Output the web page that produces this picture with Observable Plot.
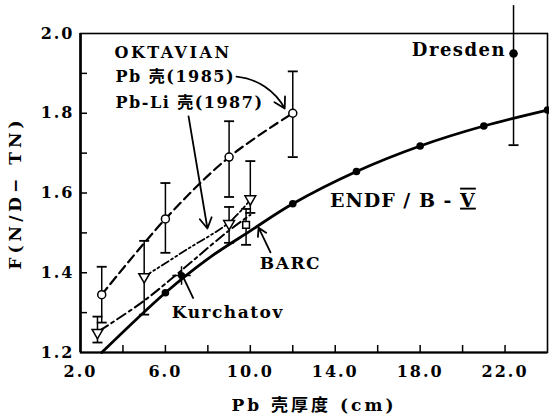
<!DOCTYPE html>
<html><head><meta charset="utf-8">
<script src="https://cdn.jsdelivr.net/npm/d3@7"></script>
<script src="https://cdn.jsdelivr.net/npm/@observablehq/plot@0.6"></script>
<style>
body{margin:0;background:#fff}
#chart svg{font-family:"DejaVu Serif","Noto Sans CJK SC",serif;font-weight:bold;}
</style>
</head><body><div id="chart"></div>
<script>
// ENDF/B-V calculation (solid curve, filled dots)
const endfX = [3, 6, 8, 10, 12, 15, 18, 21, 24];
const endfY = [1.20, 1.35, 1.435, 1.505, 1.573, 1.654, 1.718, 1.768, 1.808];
const endfDotX = [6, 12, 15, 18, 21, 24];
const endfDotY = [1.35, 1.573, 1.654, 1.718, 1.768, 1.808];

// OKTAVIAN Pb shell (1985): open circles, dashed line
const pbX = [3.0, 6.0, 9.0, 12.0];
const pbY = [1.345, 1.535, 1.69, 1.80];
const pbLow = [1.275, 1.45, 1.59, 1.69];
const pbHigh = [1.415, 1.625, 1.78, 1.905];

// OKTAVIAN Pb-Li shell (1987): open triangles
const pbliX = [2.8, 5.0, 9.0, 10.0];
const pbliY = [1.25, 1.39, 1.523, 1.585];
const pbliLow = [1.225, 1.295, 1.475, 1.55];
const pbliHigh = [1.29, 1.48, 1.565, 1.68];

// dash-dot-dot curve and dash-dot curve
const fitAX = [5.0, 7.0, 9.0, 10.0];
const fitAY = [1.39, 1.458, 1.526, 1.583];
const fitBX = [2.9, 5.0, 9.0, 10.0];
const fitBY = [1.255, 1.33, 1.506, 1.545];

// other laboratories
const barcX = [9.8], barcY = [1.52], barcLow = [1.47], barcHigh = [1.56];
const kurX = [6.76], kurY = [1.393];
const dresX = [22.4], dresY = [1.95], dresLow = [1.72], dresHigh = [2.07];

// ticks
const xTickLabels = [2, 6, 10, 14, 18, 22];
const xTicksMinor = [4, 6, 8, 10, 12, 14, 16, 18, 20, 22];
const yTickLabels = [1.2, 1.4, 1.6, 1.8, 2.0];
const yTicksMinor = [1.3, 1.4, 1.5, 1.6, 1.7, 1.8, 1.9];

// text labels
const xTitle = "Pb 壳厚度 (cm)";
const yTitle = "F(N/D− TN)";
const oktText = ["OKTAVIAN", "Pb 壳(1985)", "Pb-Li 壳(1987)"];
const oktX = [3.6, 3.65, 3.65];
const oktY = [1.952, 1.890, 1.827];
const noteText = ["Dresden", "ENDF / B - V", "BARC", "Kurchatov"];
const noteX = [22.05, 13.75, 10.45, 6.3];
const noteY = [1.957, 1.581, 1.423, 1.300];
const noteAnchor = ["end", "start", "start", "start"];

// annotation pointers
const curvedX1 = [9.35], curvedY1 = [1.892], curvedX2 = [11.62], curvedY2 = [1.812];
const arrowX1 = [7.09, 10.95], arrowY1 = [1.792, 1.451];
const arrowX2 = [7.98, 10.39], arrowY2 = [1.511, 1.513];
const kurLinkX1 = [7.32], kurLinkY1 = [1.335], kurLinkX2 = [6.85], kurLinkY2 = [1.388];

const zip = (xs, ys, extra = {}) => xs.map((x, i) => {
  const o = {x, y: ys[i]};
  for (const k in extra) o[k] = extra[k][i];
  return o;
});

const endf = zip(endfX, endfY);
const endfDots = zip(endfDotX, endfDotY);
const pb = zip(pbX, pbY, {lo: pbLow, hi: pbHigh});
const pbli = zip(pbliX, pbliY, {lo: pbliLow, hi: pbliHigh});
const fitA = zip(fitAX, fitAY);
const fitB = zip(fitBX, fitBY);
const barc = zip(barcX, barcY, {lo: barcLow, hi: barcHigh});
const kur = zip(kurX, kurY);
const dres = zip(dresX, dresY, {lo: dresLow, hi: dresHigh});
const okt = zip(oktX, oktY, {t: oktText});
const notes = zip(noteX, noteY, {t: noteText, a: noteAnchor});
const curved = zip(curvedX1, curvedY1, {x2: curvedX2, y2: curvedY2});
const arrows = zip(arrowX1, arrowY1, {x2: arrowX2, y2: arrowY2});
const kurLink = zip(kurLinkX1, kurLinkY1, {x2: kurLinkX2, y2: kurLinkY2});

const hbar = {draw(ctx, size) {const r = Math.sqrt(size / Math.PI); ctx.moveTo(-r, 0); ctx.lineTo(r, 0);}};
const errs = [...pb, ...pbli, ...barc];
const caps = [...errs.map(d => ({x: d.x, y: d.lo})), ...errs.map(d => ({x: d.x, y: d.hi})), ...dres.map(d => ({x: d.x, y: d.lo}))];

const chart = Plot.plot({
  width: 549, height: 418,
  marginLeft: 80, marginRight: 2, marginTop: 33, marginBottom: 66,
  x: {domain: [2, 24]},
  y: {domain: [1.2, 2.0]},
  style: {fontSize: "16px", background: "white", color: "black"},
  marks: [
    Plot.frame({strokeWidth: 1.6}),
    Plot.ruleX([2], {strokeWidth: 2.6}),
    Plot.ruleY([1.2], {strokeWidth: 2}),
    Plot.axisX(xTicksMinor, {tickSize: -7, tickFormat: () => "", label: null, strokeWidth: 1.5}),
    Plot.axisX(xTickLabels, {tickSize: 0, tickPadding: 13, tickFormat: d => d.toFixed(1), label: null}),
    Plot.axisY(yTicksMinor, {tickSize: -7, tickFormat: () => "", label: null, strokeWidth: 1.5}),
    Plot.axisY(yTickLabels, {tickSize: 0, tickPadding: 6, tickFormat: d => d.toFixed(1), label: null}),
    Plot.text([xTitle], {frameAnchor: "bottom", dy: 53, lineAnchor: "middle", textAnchor: "middle", text: d => d, fontSize: 17}),
    Plot.text([yTitle], {frameAnchor: "left", dx: -65, rotate: -90, textAnchor: "middle", lineAnchor: "middle", text: d => d, fontSize: 17}),

    // curves
    Plot.line(endf, {x: "x", y: "y", curve: "catmull-rom", strokeWidth: 2.8}),
    Plot.line(pb, {x: "x", y: "y", curve: "catmull-rom", strokeWidth: 2.2, strokeDasharray: "9,5"}),
    Plot.line(fitA, {x: "x", y: "y", curve: "catmull-rom", strokeWidth: 1.8, strokeDasharray: "8,3,2,3,2,3"}),
    Plot.line(fitB, {x: "x", y: "y", curve: "catmull-rom", strokeWidth: 2, strokeDasharray: "10,4,3,4"}),

    // error bars
    Plot.ruleX(errs, {x: "x", y1: "lo", y2: "hi", strokeWidth: 1.5}),
    Plot.ruleX(dres, {x: "x", y1: "lo", y2: "hi", strokeWidth: 1.5}),
    Plot.dot(caps, {x: "x", y: "y", symbol: hbar, r: 5, fill: "none", stroke: "black", strokeWidth: 1.8}),

    // markers
    Plot.dot(endfDots, {x: "x", y: "y", r: 3.8, fill: "black", stroke: "none"}),
    Plot.dot(pb, {x: "x", y: "y", r: 4, fill: "white", stroke: "black", strokeWidth: 1.5}),
    Plot.dot(pbli, {x: "x", y: "y", symbol: "triangle", rotate: 180, r: 4, fill: "white", stroke: "black", strokeWidth: 1.5}),
    Plot.dot(barc, {x: "x", y: "y", symbol: "square", r: 3.8, fill: "white", stroke: "black", strokeWidth: 1.5}),
    Plot.dot(kur, {x: "x", y: "y", symbol: "plus", r: 6, stroke: "black", strokeWidth: 1.5}),
    Plot.dot(kur, {x: "x", y: "y", r: 3.6, fill: "black", stroke: "none"}),
    Plot.dot(dres, {x: "x", y: "y", r: 4.3, fill: "black", stroke: "none"}),

    // annotations
    Plot.arrow(curved, {x1: "x", y1: "y", x2: "x2", y2: "y2", bend: 28, headLength: 10, strokeWidth: 1.8}),
    Plot.arrow(arrows, {x1: "x", y1: "y", x2: "x2", y2: "y2", headLength: 10, strokeWidth: 1.8}),
    Plot.link(kurLink, {x1: "x", y1: "y", x2: "x2", y2: "y2", strokeWidth: 1.8}),
    Plot.text(okt, {x: "x", y: "y", text: "t", textAnchor: "start", fontSize: 16}),
    Plot.text(notes.filter(d => d.a === "start"), {x: "x", y: "y", text: "t", textAnchor: "start", fontSize: 17}),
    Plot.text(notes.filter(d => d.a === "end"), {x: "x", y: "y", text: "t", textAnchor: "end", fontSize: 18})
  ]
});
document.getElementById("chart").appendChild(chart);

// letter spacing and the Roman-numeral V (post-render styling)
const tickStrings = new Set([...xTickLabels, ...yTickLabels].map(d => d.toFixed(1)));
d3.select(chart).selectAll("text").each(function() {
  const el = d3.select(this);
  const s = el.text();
  if (tickStrings.has(s)) el.style("letter-spacing", "2px");
  else if (s === yTitle) el.style("letter-spacing", "4px");
  else if (s === xTitle) el.style("letter-spacing", "3px");
  else if (oktText.includes(s)) el.style("letter-spacing", s === "OKTAVIAN" ? "2.5px" : "1.5px");
  else if (s === "ENDF / B - V") {
    el.text(s.slice(0, -1)).attr("font-size", 19).style("letter-spacing", "1px");
    el.append("tspan").text("V").style("text-decoration", "overline underline");
  } else if (s === "Dresden") el.style("letter-spacing", "1.5px");
  else if (noteText.includes(s)) el.style("letter-spacing", "1.5px");
});
</script>
</body></html>
